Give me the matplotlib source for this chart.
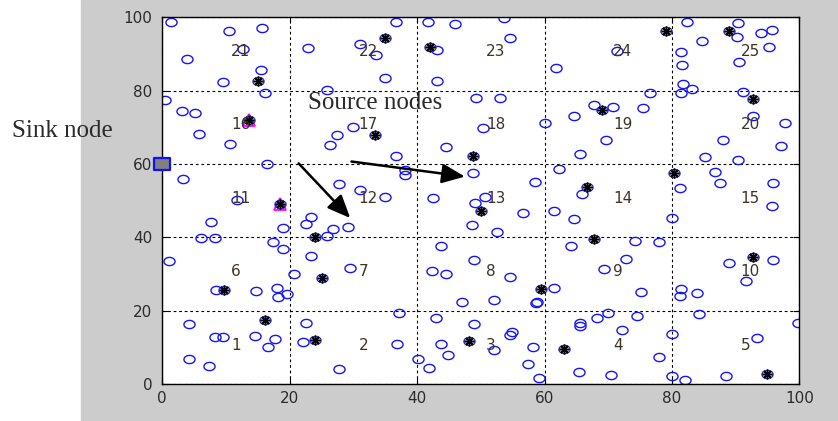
import numpy as np
import matplotlib
matplotlib.use("Agg")
import matplotlib.pyplot as plt
from matplotlib.path import Path
from matplotlib.patches import Rectangle

# ordinary sensor nodes (x, y)
node_x = [1.3, 10.5, 15.7, 12.7, 3.8, 15.5, 9.6, 16.2, 0.4, 3.1, 5.1, 5.8, 10.6, 16.4, 3.2, 11.7,
          22.8, 25.8, 31.1, 33.5, 29.9, 27.4, 26.3, 27.7, 31.1,
          36.7, 34.9, 41.7, 45.9, 53.7, 54.6, 43.2, 43.1, 61.8, 49.3, 53.0, 50.4, 60.1, 64.7,
          44.5, 36.7, 65.6, 38.1, 38.1, 48.8, 62.2, 58.5, 65.9, 34.9, 42.5, 50.7, 49.1,
          82.3, 90.4, 90.2, 94.0, 95.7, 95.2, 90.6, 84.8, 81.4, 81.6, 71.4, 81.8, 83.1, 81.5,
          76.6, 75.5, 70.8, 67.8, 91.2, 92.8, 97.7, 69.7, 88.0, 97.2, 85.2, 90.3, 86.8, 87.6,
          81.2, 95.9, 95.7,
          7.6, 6.0, 8.3, 1.1, 18.9, 17.3, 18.9, 23.4, 22.6, 26.8, 25.8, 29.1, 23.3, 29.5, 20.7,
          8.4, 14.7, 18.0, 18.2, 19.6, 4.2, 8.2, 9.6, 14.5, 17.7, 16.6, 22.6, 22.1, 4.2, 7.4, 27.7,
          56.7, 61.5, 64.7, 48.6, 52.5, 43.7, 64.2, 48.9, 42.3, 44.5, 54.6, 61.5, 47.0, 52.1,
          58.6, 58.8, 37.2, 42.9, 48.9, 54.9, 54.6, 65.5, 65.5, 68.2, 36.9, 43.8, 52.1, 58.2,
          44.9, 40.1, 41.8, 57.4, 65.4, 59.2,
          80.0, 74.2, 77.9, 72.8, 69.3, 75.1, 81.5, 81.3, 83.9, 89.0, 95.8, 91.6, 69.9, 74.5,
          84.3, 99.8, 72.1, 80.0, 93.3, 77.9, 70.5, 80.0, 82.1, 88.5]
node_y = [98.6, 96.3, 97.2, 91.4, 88.6, 85.6, 82.4, 79.4, 77.5, 74.5, 73.8, 68.3, 65.4, 59.9, 55.9, 50.2,
          91.5, 80.1, 92.6, 89.8, 70.0, 67.9, 65.2, 54.7, 52.9,
          98.8, 83.4, 98.6, 98.2, 99.7, 94.4, 91.0, 82.6, 86.1, 77.9, 77.9, 69.9, 71.2, 73.2,
          64.7, 62.3, 62.7, 58.4, 57.0, 57.7, 58.7, 55.0, 51.9, 51.1, 50.7, 51.1, 49.3,
          98.6, 98.4, 94.7, 95.6, 96.5, 92.0, 87.9, 93.5, 90.6, 87.0, 90.8, 81.8, 80.4, 79.3,
          79.4, 75.4, 75.6, 76.1, 79.6, 73.1, 71.2, 66.5, 66.7, 64.8, 61.9, 61.0, 57.9, 54.9,
          53.4, 54.8, 48.5,
          44.1, 39.8, 39.8, 33.6, 42.7, 38.9, 36.8, 45.6, 43.6, 42.2, 40.5, 42.9, 35.0, 31.8, 30.0,
          25.8, 25.4, 26.3, 23.9, 24.7, 16.4, 12.9, 12.9, 13.2, 12.3, 10.2, 16.8, 11.5, 6.8, 5.0, 4.2,
          46.8, 47.2, 45.0, 43.4, 41.4, 37.8, 37.6, 33.9, 30.9, 30.1, 29.3, 26.2, 22.5, 22.9,
          22.1, 22.5, 19.4, 18.1, 16.5, 14.3, 13.4, 16.8, 15.9, 18.0, 10.9, 10.9, 9.3, 10.2,
          7.9, 7.0, 4.4, 5.5, 3.3, 1.8,
          45.2, 39.1, 38.8, 34.1, 31.5, 25.2, 26.0, 24.1, 25.0, 33.1, 33.8, 28.1, 19.4, 18.5,
          19.1, 16.8, 14.7, 13.8, 12.5, 7.5, 2.5, 2.3, 1.2, 2.3]

# cluster head nodes
head_x = [15.1, 33.4, 34.9, 42.1, 69.0, 48.8, 66.6, 79.1, 88.9, 92.8, 80.4, 23.9,
          25.1, 9.7, 16.2, 24.0, 50.0, 67.7, 59.4, 48.1, 63.1, 92.8, 94.9]
head_y = [82.6, 67.9, 94.3, 91.9, 74.7, 62.3, 53.8, 96.3, 96.3, 77.7, 57.7, 40.2,
          28.9, 25.8, 17.5, 12.1, 47.3, 39.5, 25.9, 11.8, 9.5, 34.8, 2.9]

# source nodes
source_x = [13.6, 18.5]
source_y = [72.1, 49.2]

sink_x = [0]
sink_y = [60]

cell_ids = list(range(1, 26))
ticks = [0, 20, 40, 60, 80, 100]

t = np.linspace(0, 2 * np.pi, 40)
ellipse = Path(np.column_stack([np.cos(t), 0.74 * np.sin(t)]), closed=True)
rect = Path([(-1, -0.7), (1, -0.7), (1, 0.7), (-1, 0.7), (-1, -0.7)], closed=True)

fig = plt.figure(figsize=(8.38, 4.21), dpi=100)
fig.patches.append(Rectangle((81 / 838, 0), 1, 1, transform=fig.transFigure,
                             color='#cccccc', zorder=-10))
ax = fig.add_axes([162.3 / 838, 1 - 384.3 / 421, 637 / 838, 367 / 421], zorder=2)

ax.plot(node_x, node_y, ls='none', marker=ellipse, ms=8, mfc='none', mec='#1414ff', mew=1.0)
ax.plot(head_x, head_y, ls='none', marker=ellipse, ms=8, mfc='none', mec='#3030c0', mew=1.0)
ax.plot(head_x, head_y, ls='none', marker=(8, 2, 0), ms=7, mec='k', mew=1.1)
ax.plot(source_x, source_y, ls='none', marker='^', ms=9, mfc='none', mec='#ff00ff', mew=1.3)
ax.plot(source_x, source_y, ls='none', marker=ellipse, ms=8, mfc='none', mec='#3030c0', mew=1.0)
ax.plot(source_x, source_y, ls='none', marker=(8, 2, 0), ms=7, mec='k', mew=1.1)
ax.plot(sink_x, sink_y, ls='none', marker=rect, ms=12, mfc='#808080', mec='#1010ff',
        mew=1.6, clip_on=False, zorder=5)

for i, cid in enumerate(cell_ids):
    c, r = i % 5, i // 5
    ax.text(20 * c + 10.8, 20 * r + 10.7, str(cid), ha='left', va='center',
            fontsize=11, color='#3d3428')

ax.annotate('', xy=(29.5, 45.3), xytext=(21.4, 60.2),
            arrowprops=dict(arrowstyle='-|>,head_length=0.7,head_width=0.3',
                            mutation_scale=20, lw=1.8, color='k', shrinkA=0, shrinkB=0))
ax.annotate('', xy=(47.5, 56.6), xytext=(29.7, 60.7),
            arrowprops=dict(arrowstyle='-|>,head_length=0.7,head_width=0.3',
                            mutation_scale=20, lw=1.8, color='k', shrinkA=0, shrinkB=0))

ax.text(33.4, 76.6, 'Source nodes', ha='center', va='center', fontsize=18,
        family='Liberation Serif', color='#2a2a2a')
fig.text(12 / 838, 1 - 131 / 421, 'Sink node', ha='left', va='center', fontsize=18,
         family='Liberation Serif', color='#2a2a2a', zorder=3)

ax.set_xlim(0, 100)
ax.set_ylim(0, 100)
ax.set_xticks(ticks)
ax.set_yticks(ticks)
ax.tick_params(direction='in', top=True, right=True, length=4, labelsize=11,
               labelcolor='#2b2b2b')
ax.tick_params(axis='x', pad=5)
ax.tick_params(axis='y', pad=7)
ax.grid(True, color='k', ls=(0, (2.5, 2.5)), lw=0.8)
for s in ax.spines.values():
    s.set_linewidth(1.0)

fig.savefig('out.png', dpi=100)
